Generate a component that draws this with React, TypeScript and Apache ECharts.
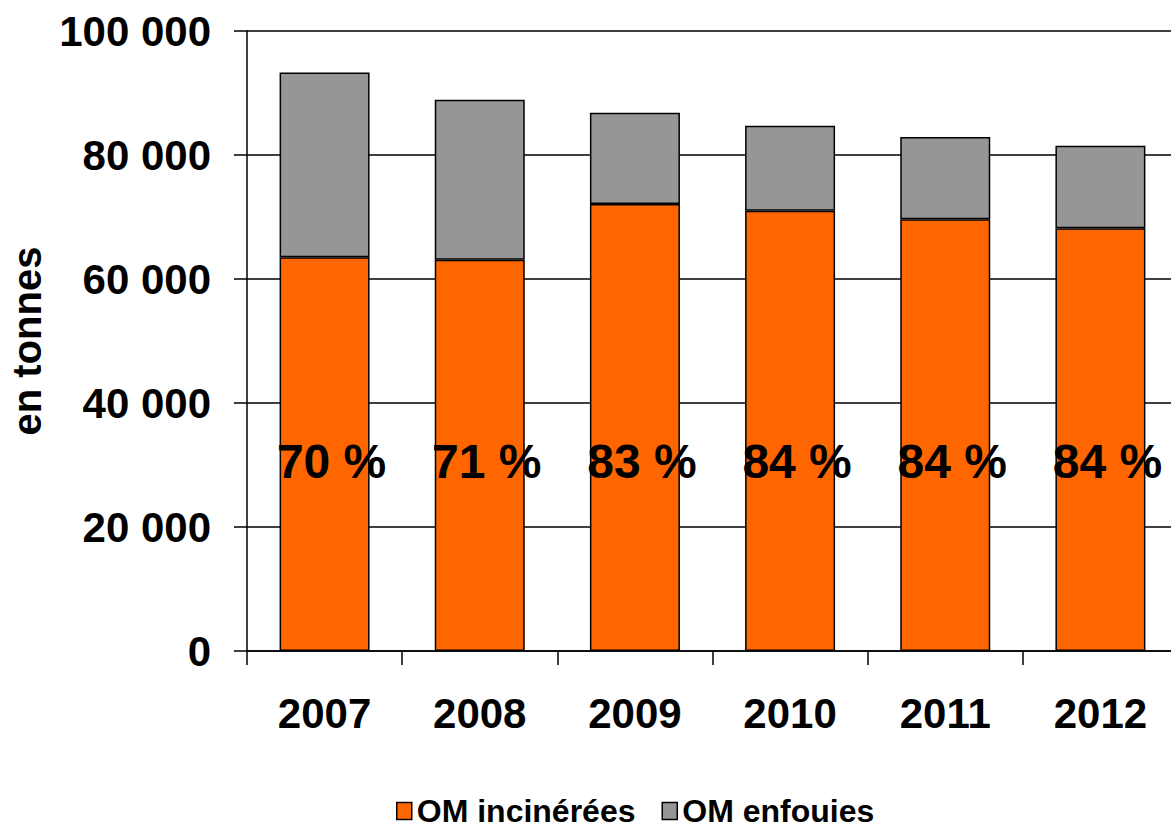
import React, { useEffect, useRef } from "react";
import * as echarts from "echarts";

const years = ["2007", "2008", "2009", "2010", "2011", "2012"];
const incinerees = [63500, 63100, 72100, 71000, 69650, 68200];
const enfouies = [29800, 25800, 14700, 13700, 13250, 13300];
const pourcentages = ["70 %", "71 %", "83 %", "84 %", "84 %", "84 %"];
const yTicks = [0, 20000, 40000, 60000, 80000, 100000];

const FONT = "'Liberation Sans', Arial, sans-serif";

function fmt(v: number): string {
  return String(v).replace(/\B(?=(\d{3})+(?!\d))/g, " ");
}

export default function App() {
  const ref = useRef<HTMLDivElement>(null);
  useEffect(() => {
    if (!ref.current) return;
    const chart = echarts.init(ref.current, undefined, { renderer: "svg" });
    const labelLevel = 30600;
    chart.setOption({
      animation: false,
      backgroundColor: "#ffffff",
      textStyle: { fontFamily: FONT },
      grid: {
        left: 247,
        top: 31,
        right: -7,
        bottom: 177,
        containLabel: false,
        outerBoundsMode: "none",
      },
      legend: {
        data: ["OM incinérées", "OM enfouies"],
        left: 391,
        top: 790,
        icon: "rect",
        itemWidth: 15,
        itemHeight: 17,
        itemGap: 26,
        itemStyle: { borderColor: "#000", borderWidth: 1.5 },
        textStyle: { fontFamily: FONT, fontSize: 32, fontWeight: "bold", color: "#000" },
      },
      xAxis: {
        type: "category",
        data: years,
        boundaryGap: true,
        axisLine: { show: true, lineStyle: { color: "#000", width: 1.5 } },
        axisTick: { show: true, length: 14, alignWithLabel: false, lineStyle: { color: "#000", width: 1.5 } },
        axisLabel: { margin: 41, fontFamily: FONT, fontSize: 42, fontWeight: "bold", color: "#000" },
        splitLine: { show: false },
      },
      yAxis: {
        type: "value",
        min: yTicks[0],
        max: yTicks[yTicks.length - 1],
        interval: 20000,
        name: "en tonnes",
        nameLocation: "middle",
        nameRotate: 90,
        nameGap: 200,
        nameTextStyle: { fontFamily: FONT, fontSize: 40, fontWeight: "bold", color: "#000" },
        axisLine: { show: true, lineStyle: { color: "#000", width: 1.5 } },
        axisTick: { show: true, length: 13, lineStyle: { color: "#000", width: 1.5 } },
        axisLabel: {
          margin: 36,
          fontFamily: FONT,
          fontSize: 42,
          fontWeight: "bold",
          color: "#000",
          formatter: (v: number) => fmt(v),
        },
        splitLine: { show: true, lineStyle: { color: "#000", width: 1.5 } },
      },
      series: [
        {
          name: "OM incinérées",
          type: "bar",
          stack: "total",
          barWidth: "58%",
          data: incinerees,
          itemStyle: { color: "#FF6600", borderColor: "#000", borderWidth: 1.5 },
        },
        {
          name: "OM enfouies",
          type: "bar",
          stack: "total",
          barWidth: "58%",
          data: enfouies,
          itemStyle: { color: "#969696", borderColor: "#000", borderWidth: 1.5 },
        },
        {
          name: "pct",
          type: "scatter",
          symbolSize: 0,
          silent: true,
          z: 10,
          itemStyle: { opacity: 1 },
          data: years.map(() => labelLevel),
          label: {
            show: true,
            position: "inside",
            offset: [7, 0],
            opacity: 1,
            formatter: (p: any) => pourcentages[p.dataIndex],
            fontFamily: FONT,
            fontSize: 48,
            fontWeight: "bold",
            color: "#000",
          },
        },
      ],
    });
    return () => chart.dispose();
  }, []);
  return (
    <div
      ref={ref}
      style={{ position: "absolute", left: 0, top: 0, width: 1171, height: 828, background: "#fff" }}
    />
  );
}
